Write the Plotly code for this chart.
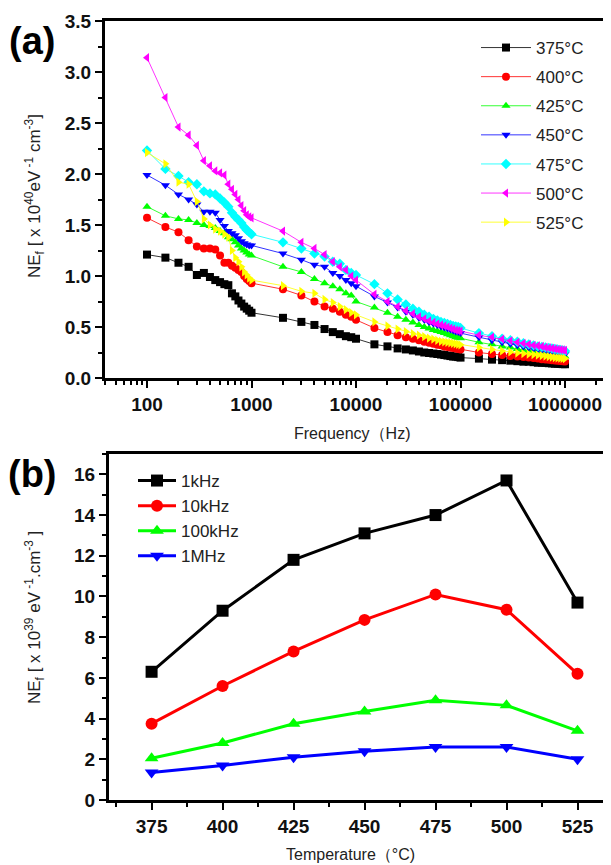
import plotly.graph_objects as go

# ---------- panel (a) data: NE_f (x10^40 eV^-1 cm^-3) vs frequency ----------
freq = [100, 150, 200, 250, 300, 350, 400, 450, 500, 550, 600, 650, 700, 750, 800, 850, 900, 950, 1000,
        2000, 3000, 4000, 5000, 6000, 7000, 8000, 9000, 10000,
        15000, 20000, 25000, 30000, 35000, 40000, 45000, 50000, 55000, 60000, 65000, 70000, 75000,
        80000, 85000, 90000, 95000, 100000,
        150000, 200000, 250000, 300000, 350000, 400000, 450000, 500000, 550000, 600000, 650000,
        700000, 750000, 800000, 850000, 900000, 950000, 1000000]

ne_375 = [1.21, 1.18, 1.13, 1.09, 1.01, 1.03, 0.99, 0.96, 0.94, 0.92, 0.91, 0.83, 0.80, 0.76, 0.73, 0.70, 0.68, 0.66, 0.64,
          0.59, 0.55, 0.52, 0.48, 0.45, 0.43, 0.41, 0.40, 0.385,
          0.33, 0.31, 0.29, 0.28, 0.27, 0.26, 0.25, 0.245, 0.24, 0.235, 0.23, 0.225, 0.22, 0.215, 0.21, 0.21, 0.205, 0.20,
          0.19, 0.18, 0.175, 0.17, 0.165, 0.16, 0.16, 0.155, 0.15, 0.15, 0.148, 0.145, 0.143, 0.14, 0.14, 0.138, 0.136, 0.135]
ne_400 = [1.57, 1.48, 1.43, 1.35, 1.29, 1.27, 1.27, 1.26, 1.20, 1.13, 1.13, 1.10, 1.08, 1.06, 1.04, 1.00, 0.97, 0.95, 0.93,
          0.87, 0.81, 0.75, 0.70, 0.68, 0.65, 0.62, 0.60, 0.57,
          0.49, 0.45, 0.42, 0.40, 0.385, 0.37, 0.355, 0.345, 0.335, 0.325, 0.32, 0.31, 0.305, 0.30, 0.295, 0.29, 0.285, 0.28,
          0.25, 0.235, 0.225, 0.215, 0.21, 0.205, 0.20, 0.195, 0.19, 0.185, 0.182, 0.178, 0.175, 0.172, 0.17, 0.167, 0.165, 0.162]
ne_425 = [1.68, 1.59, 1.56, 1.55, 1.52, 1.50, 1.49, 1.47, 1.44, 1.42, 1.38, 1.36, 1.33, 1.30, 1.27, 1.25, 1.23, 1.21, 1.20,
          1.09, 1.04, 0.97, 0.93, 0.90, 0.87, 0.83, 0.81, 0.75,
          0.69, 0.64, 0.60, 0.57, 0.545, 0.52, 0.50, 0.485, 0.47, 0.46, 0.45, 0.44, 0.43, 0.42, 0.41, 0.40, 0.395, 0.39,
          0.35, 0.33, 0.31, 0.30, 0.285, 0.275, 0.265, 0.26, 0.255, 0.25, 0.245, 0.24, 0.235, 0.23, 0.225, 0.22, 0.215, 0.21]
ne_450 = [1.99, 1.89, 1.80, 1.75, 1.70, 1.63, 1.63, 1.62, 1.55, 1.49, 1.44, 1.42, 1.40, 1.37, 1.34, 1.32, 1.31, 1.30, 1.30,
          1.22, 1.16, 1.11, 1.09, 1.03, 1.00, 0.96, 0.93, 0.90,
          0.80, 0.74, 0.69, 0.65, 0.62, 0.59, 0.57, 0.55, 0.535, 0.52, 0.505, 0.495, 0.485, 0.475, 0.465, 0.455, 0.45, 0.44,
          0.40, 0.37, 0.35, 0.335, 0.32, 0.31, 0.30, 0.29, 0.28, 0.275, 0.27, 0.265, 0.26, 0.255, 0.25, 0.245, 0.24, 0.235]
ne_475 = [2.23, 2.05, 1.98, 1.92, 1.90, 1.83, 1.81, 1.80, 1.76, 1.72, 1.68, 1.62, 1.58, 1.55, 1.52, 1.48, 1.45, 1.43, 1.41,
          1.33, 1.27, 1.22, 1.19, 1.14, 1.12, 1.06, 1.03, 1.01,
          0.92, 0.83, 0.77, 0.72, 0.68, 0.65, 0.62, 0.60, 0.58, 0.565, 0.55, 0.54, 0.53, 0.52, 0.51, 0.505, 0.50, 0.49,
          0.44, 0.41, 0.385, 0.37, 0.355, 0.34, 0.33, 0.32, 0.31, 0.305, 0.30, 0.295, 0.29, 0.285, 0.28, 0.275, 0.27, 0.265]
ne_500 = [3.14, 2.75, 2.46, 2.38, 2.28, 2.13, 2.08, 2.03, 2.01, 1.99, 1.90, 1.85, 1.80, 1.75, 1.69, 1.64, 1.60, 1.58, 1.57,
          1.44, 1.33, 1.27, 1.21, 1.14, 1.09, 1.06, 1.00, 0.96,
          0.82, 0.75, 0.70, 0.66, 0.63, 0.60, 0.58, 0.56, 0.545, 0.53, 0.52, 0.51, 0.50, 0.49, 0.48, 0.47, 0.465, 0.46,
          0.42, 0.40, 0.38, 0.365, 0.35, 0.34, 0.33, 0.32, 0.315, 0.31, 0.30, 0.295, 0.29, 0.285, 0.28, 0.278, 0.275, 0.27]
ne_525 = [2.21, 2.10, 1.92, 1.90, 1.73, 1.56, 1.50, 1.46, 1.44, 1.41, 1.38, 1.25, 1.18, 1.14, 1.09, 1.04, 1.01, 0.98, 0.96,
          0.905, 0.85, 0.83, 0.77, 0.74, 0.70, 0.67, 0.64, 0.62,
          0.55, 0.51, 0.48, 0.455, 0.435, 0.42, 0.405, 0.39, 0.38, 0.37, 0.36, 0.355, 0.35, 0.345, 0.34, 0.335, 0.33, 0.325,
          0.30, 0.28, 0.265, 0.255, 0.245, 0.24, 0.235, 0.23, 0.225, 0.22, 0.215, 0.21, 0.205, 0.20, 0.198, 0.195, 0.192, 0.19]

# ---------- panel (b) data: NE_f (x10^39 eV^-1 cm^-3) vs temperature ----------
temps = [375, 400, 425, 450, 475, 500, 525]
ne_1k = [6.3, 9.3, 11.8, 13.1, 14.0, 15.7, 9.7]
ne_10k = [3.75, 5.6, 7.3, 8.85, 10.1, 9.35, 6.2]
ne_100k = [2.05, 2.8, 3.75, 4.35, 4.9, 4.65, 3.4]
ne_1M = [1.35, 1.7, 2.1, 2.4, 2.6, 2.6, 2.0]

# page body has an 8px margin, so the figure is shrunk and positions are
# given in page pixels then shifted back by that offset
OFF = 8
W, H = 611 - OFF, 865 - OFF
FONT = "Arial, Liberation Sans, sans-serif"


def px(x):
    return (x - OFF) / W


def py(y):
    return 1 - (y - OFF) / H


fig = go.Figure()

series_a = [
    ("375°C", ne_375, "black", "square"),
    ("400°C", ne_400, "red", "circle"),
    ("425°C", ne_425, "#00ff00", "triangle-up"),
    ("450°C", ne_450, "blue", "triangle-down"),
    ("475°C", ne_475, "cyan", "diamond"),
    ("500°C", ne_500, "magenta", "triangle-left"),
    ("525°C", ne_525, "yellow", "triangle-right"),
]
for name, vals, col, sym in series_a:
    fig.add_trace(go.Scatter(
        x=freq, y=vals, name=name, mode="lines+markers",
        line=dict(color=col, width=0.8),
        marker=dict(symbol=sym, size=8, color=col),
        xaxis="x", yaxis="y", legend="legend", legendgroup=name))

series_b = [
    ("1kHz", ne_1k, "black", "square"),
    ("10kHz", ne_10k, "red", "circle"),
    ("100kHz", ne_100k, "#00ff00", "triangle-up"),
    ("1MHz", ne_1M, "blue", "triangle-down"),
]
for name, vals, col, sym in series_b:
    fig.add_trace(go.Scatter(
        x=temps, y=vals, name=name, mode="lines+markers",
        line=dict(color=col, width=3),
        marker=dict(symbol=sym, size=12, color=col),
        xaxis="x2", yaxis="y2", legend="legend2", legendgroup=name))

axis_common = dict(showline=True, linecolor="black", linewidth=3, ticks="outside",
                   tickwidth=2, tickcolor="black", showgrid=False, zeroline=False,
                   automargin=False,
                   tickfont=dict(family=FONT, size=19, color="#111", weight="bold"))

# minor tick positions on the log axis
minor_log = [m * 10 ** e for e in range(1, 7) for m in range(2, 10)]

fig.update_layout(
    width=W, height=H,
    margin=dict(l=0, r=0, t=0, b=0),
    paper_bgcolor="white", plot_bgcolor="white",
    font=dict(family=FONT, color="#222"),
    xaxis=dict(axis_common, type="log", domain=[px(105), 1], range=[1.598, 6.44],
               anchor="y", mirror=True, ticklen=7,
               tickvals=[100, 1000, 10000, 100000, 1000000],
               ticktext=["100", "1000", "10000", "100000", "1000000"],
               minor=dict(ticks="outside", ticklen=4, tickwidth=2, tickcolor="black",
                          tickmode="array", tickvals=minor_log)),
    yaxis=dict(axis_common, domain=[py(378), py(21)], range=[0, 3.5], anchor="x",
               dtick=0.5, tickformat=".1f", ticklen=7,
               minor=dict(ticks="outside", ticklen=4, tickwidth=2, tickcolor="black", dtick=0.25)),
    xaxis2=dict(axis_common, domain=[px(109), 1], range=[360, 536.8], anchor="y2",
                mirror=True, tickvals=temps, ticklen=7,
                minor=dict(ticks="outside", ticklen=4, tickwidth=2, tickcolor="black",
                           tick0=362.5, dtick=25)),
    yaxis2=dict(axis_common, domain=[py(800), py(454)], range=[0, 17], anchor="x2",
                dtick=2, ticklen=7,
                minor=dict(ticks="outside", ticklen=4, tickwidth=2, tickcolor="black", dtick=1)),
    legend=dict(x=px(476), y=py(30), xanchor="left", yanchor="top",
                bgcolor="rgba(0,0,0,0)", tracegroupgap=4, itemwidth=50,
                font=dict(family=FONT, size=17, color="#222")),
    legend2=dict(x=px(133), y=py(463), xanchor="left", yanchor="top",
                 bgcolor="rgba(0,0,0,0)", tracegroupgap=0, itemwidth=38,
                 font=dict(family=FONT, size=17, color="#222")),
    showlegend=True,
)

annots = [
    dict(text="<b>(a)</b>", x=px(32), y=py(41), font=dict(size=38, color="black")),
    dict(text="<b>(b)</b>", x=px(32), y=py(474), font=dict(size=38, color="black")),
    dict(text="Frequency（Hz)", x=px(352), y=py(433), font=dict(size=16)),
    dict(text="Temperature（°C)", x=px(350), y=py(854), font=dict(size=16)),
    dict(text="NE<sub>f</sub> [ x 10<sup>40</sup>eV<sup> -1</sup> cm<sup>-3</sup>]",
         x=px(34), y=py(196), textangle=-90, font=dict(size=17)),
    dict(text="NE<sub>f</sub> [ x 10<sup>39</sup> eV<sup> -1</sup>.cm<sup>-3</sup> ]",
         x=px(34), y=py(618), textangle=-90, font=dict(size=17)),
]
for a in annots:
    fig.add_annotation(xref="paper", yref="paper", showarrow=False,
                       xanchor="center", yanchor="middle", **a)

fig.write_html("out.html")
